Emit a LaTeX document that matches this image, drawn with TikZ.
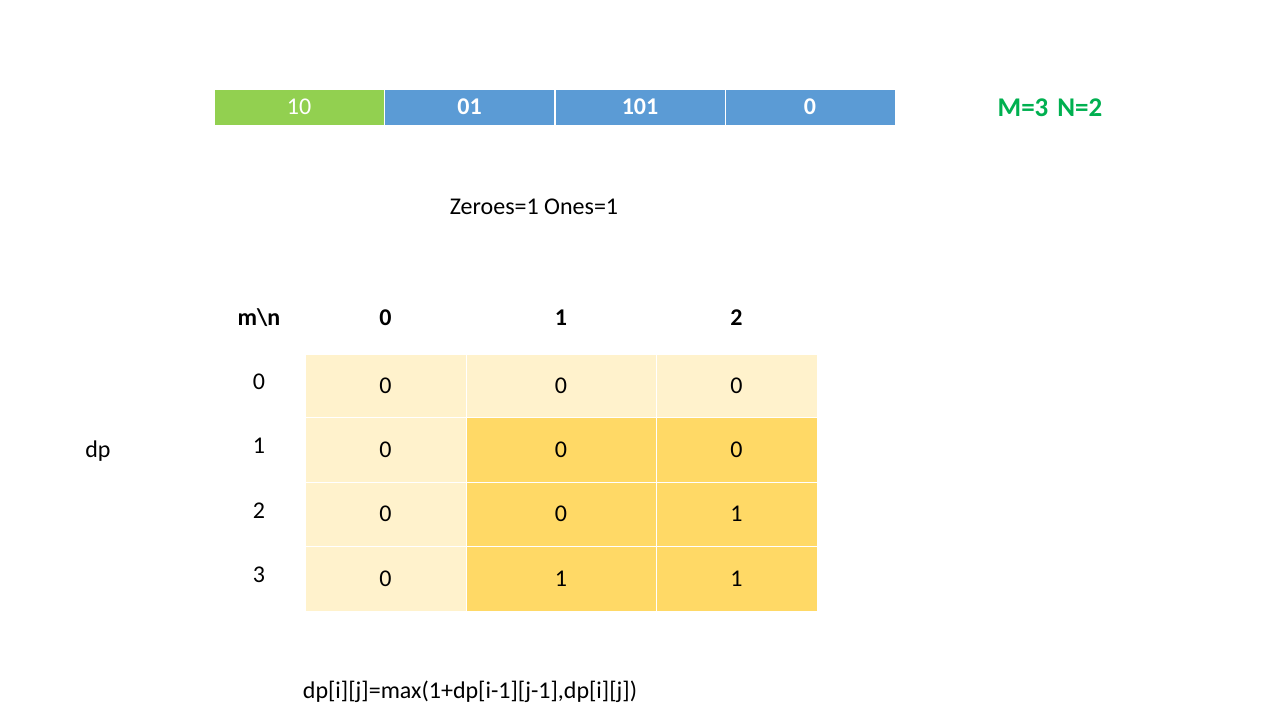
\documentclass[tikz,border=0pt]{standalone}
\usepackage{fontspec}
\setmainfont{Carlito}
\definecolor{barGreen}{HTML}{92D050}
\definecolor{barBlue}{HTML}{5B9BD5}
\definecolor{txtGreen}{HTML}{00B050}
\definecolor{cellLight}{HTML}{FFF2CC}
\definecolor{cellDark}{HTML}{FFD966}
\tikzset{
  px/.style={x=1pt,y=-1pt},
  barcell/.style={draw=white, line width=0.8pt, minimum width=170pt, minimum height=36pt, inner sep=0pt, text=white, font=\fontsize{24}{28}\selectfont},
  tcell/.style={draw=white, line width=1pt, inner sep=0pt, font=\fontsize{24}{28}\selectfont},
  lbl/.style={inner sep=0pt, font=\fontsize{24}{28}\selectfont},
  hdr/.style={inner sep=0pt, font=\fontsize{24}{28}\selectfont\bfseries},
}
\begin{document}
\begin{tikzpicture}[px]
\useasboundingbox (0,0) rectangle (1280,720);
% top bar
\node[barcell, fill=barGreen] (b1) at (299,107) {10};
\node[barcell, fill=barBlue, font=\fontsize{24}{28}\selectfont\bfseries] (b2) at (469.5,107) {01};
\node[barcell, fill=barBlue, font=\fontsize{24}{28}\selectfont\bfseries] (b3) at (640,107) {101};
\node[barcell, fill=barBlue, font=\fontsize{24}{28}\selectfont\bfseries] (b4) at (810,107) {0};
\node[inner sep=0pt, text=txtGreen, font=\fontsize{27}{31}\selectfont\bfseries] (mn) at (1050,108) {M=3\,\,N=2};
\node[lbl] (zo) at (534,207) {Zeroes=1 Ones=1};
% header
\node[hdr] (hmn) at (259,318) {m\textbackslash n};
\node[hdr] (h0) at (385.5,318) {0};
\node[hdr] (h1) at (561,318) {1};
\node[hdr] (h2) at (736.5,318) {2};
% row labels
\node[lbl] (r0) at (259,382) {0};
\node[lbl] (r1) at (259,446) {1};
\node[lbl] (r2) at (259,511) {2};
\node[lbl] (r3) at (259,575) {3};
\node[lbl] (dp) at (98,451) {dp};
% cells
\node[tcell, fill=cellLight, minimum width=161pt, minimum height=63pt] (c00) at (385.5,385.5) {0};
\node[tcell, fill=cellLight, minimum width=190pt, minimum height=63pt] (c01) at (561,385.5) {0};
\node[tcell, fill=cellLight, minimum width=161pt, minimum height=63pt] (c02) at (736.5,385.5) {0};
\node[tcell, fill=cellLight, minimum width=161pt, minimum height=65pt] (c10) at (385.5,449.5) {0};
\node[tcell, fill=cellDark, minimum width=190pt, minimum height=65pt] (c11) at (561,449.5) {0};
\node[tcell, fill=cellDark, minimum width=161pt, minimum height=65pt] (c12) at (736.5,449.5) {0};
\node[tcell, fill=cellLight, minimum width=161pt, minimum height=64pt] (c20) at (385.5,514) {0};
\node[tcell, fill=cellDark, minimum width=190pt, minimum height=64pt] (c21) at (561,514) {0};
\node[tcell, fill=cellDark, minimum width=161pt, minimum height=64pt] (c22) at (736.5,514) {1};
\node[tcell, fill=cellLight, minimum width=161pt, minimum height=65pt] (c30) at (385.5,578.5) {0};
\node[tcell, fill=cellDark, minimum width=190pt, minimum height=65pt] (c31) at (561,578.5) {1};
\node[tcell, fill=cellDark, minimum width=161pt, minimum height=65pt] (c32) at (736.5,578.5) {1};
% formula
\node[lbl] (f) at (470,692) {dp[i][j]=max(1+dp[i-1][j-1],dp[i][j])};
\end{tikzpicture}
\end{document}
